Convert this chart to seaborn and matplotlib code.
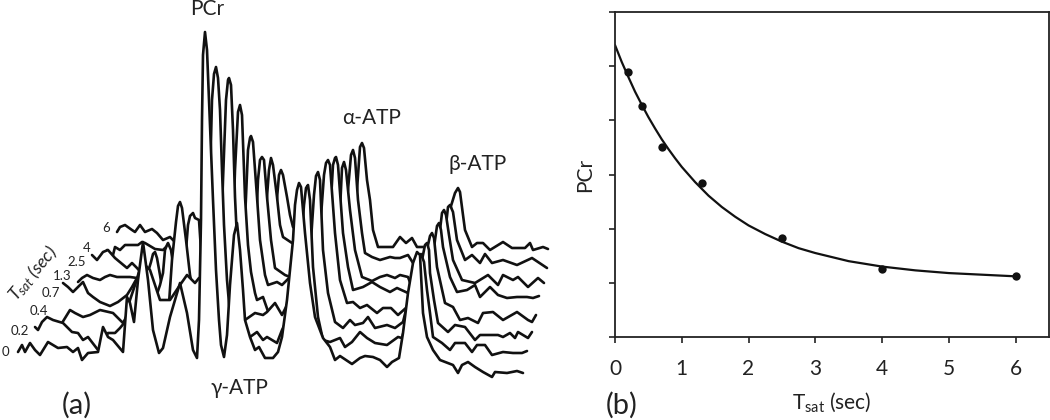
"""31P saturation transfer figure: stacked spectra (a) and PCr decay (b)."""

import matplotlib
matplotlib.use("Agg")
import matplotlib.pyplot as plt
import numpy as np
import seaborn as sns

# (a) stacked spectra: (position, height), front to back
TRACE_0 = [(18,352),(22,345),(25,352),(30,343),(35,350),(40,355),(48,342),(58,348),(67,347),(73,352),(78,348),(82,360),(88,353),(98,352),(103,327),(108,337),(113,340),(123,352),(127,297),(130,303),(134,322),(138,280),(143,242),(148,280),(153,330),(159,353),(163,348),(170,317),(180,283),(187,313),(193,350),(197,358),(199,320),(201,220),(202,120),(203,55),(205,32),(207,50),(209,100),(211,150),(213,200),(216,270),(219,320),(221,345),(224,357),(227,335),(230,285),(234,235),(237,223),(240,250),(243,290),(245,320),(250,337),(255,350),(259,347),(265,358),(273,358),(278,352),(282,337),(287,300),(293,240),(295,205),(297,190),(299,183),(301,187),(303,210),(305,233),(310,283),(315,317),(323,338),(330,347),(335,360),(340,356),(352,364),(360,358),(365,356),(373,357),(380,360),(387,367),(392,362),(399,358),(403,333),(408,293),(413,263),(417,252),(420,255),(423,313),(427,337),(433,350),(440,360),(453,365),(458,373),(462,365),(468,362),(475,367),(483,372),(492,377),(495,372),(507,373),(517,371),(523,373)]
TRACE_1 = [(35,327),(38,330),(42,322),(47,317),(53,320),(63,323),(72,332),(78,333),(83,340),(88,337),(98,350),(104,340),(108,333),(115,333),(120,328),(125,322),(130,300),(135,285),(142,262),(150,270),(160,300),(170,300),(180,285),(187,275),(195,283),(199,278),(203,280),(207,300),(210,180),(212,100),(214,74),(216,67),(218,78),(220,110),(222,170),(224,225),(227,280),(229,303),(232,335),(238,350),(245,345),(250,337),(257,332),(263,340),(267,337),(277,343),(282,330),(287,320),(292,290),(297,290),(301,245),(304,205),(306,188),(308,185),(310,200),(313,267),(318,317),(323,340),(330,342),(335,340),(340,338),(345,347),(352,342),(360,332),(367,338),(375,343),(387,345),(398,337),(402,338),(408,315),(413,285),(417,265),(421,254),(424,262),(427,290),(430,313),(433,337),(442,343),(450,350),(455,343),(465,343),(472,352),(477,345),(485,345),(492,355),(503,352),(513,353),(522,353),(527,351)]
TRACE_2 = [(62,323),(70,310),(75,313),(83,317),(90,315),(100,310),(113,313),(118,318),(123,323),(130,310),(140,270),(150,280),(160,320),(168,318),(172,260),(176,222),(178,206),(180,202),(182,208),(186,240),(190,275),(195,300),(198,307),(205,320),(215,320),(220,280),(223,180),(226,100),(228,80),(229,78),(231,85),(233,130),(235,197),(238,260),(242,300),(245,320),(255,313),(263,315),(267,312),(275,303),(282,315),(287,305),(293,290),(300,300),(306,300),(311,240),(314,195),(316,176),(318,172),(320,180),(323,250),(328,293),(335,322),(343,328),(350,320),(355,325),(363,323),(368,317),(375,328),(387,325),(395,328),(403,322),(406,310),(411,300),(417,280),(422,260),(425,245),(427,243),(429,250),(430,273),(434,300),(438,323),(448,332),(455,325),(465,327),(475,340),(480,335),(498,335),(503,337),(510,333),(515,338),(518,332),(528,338),(532,332)]
TRACE_3 = [(63,283),(68,287),(73,292),(78,287),(83,282),(88,293),(93,297),(100,302),(110,306),(118,302),(127,295),(132,287),(137,278),(145,290),(155,310),(170,310),(183,295),(186,250),(188,225),(190,216),(193,213),(195,218),(199,220),(201,250),(203,285),(210,310),(225,310),(232,260),(235,170),(238,112),(240,105),(242,115),(245,197),(248,245),(251,272),(255,293),(257,300),(263,297),(270,317),(273,330),(278,323),(283,320),(288,305),(292,280),(305,290),(315,280),(320,230),(324,175),(326,163),(328,160),(330,165),(335,233),(340,280),(347,303),(353,302),(360,308),(367,305),(377,313),(383,308),(391,308),(398,315),(407,307),(409,293),(417,290),(424,280),(428,245),(430,236),(432,233),(434,238),(437,267),(445,303),(453,307),(460,320),(468,318),(478,323),(483,313),(493,312),(503,320),(517,312),(528,320),(532,322),(536,315)]
TRACE_4 = [(78,282),(82,278),(87,275),(93,278),(100,280),(105,277),(110,275),(117,277),(130,277),(137,278),(145,290),(155,300),(160,285),(163,273),(165,250),(167,245),(168,243),(171,250),(174,270),(178,283),(190,300),(210,305),(240,300),(245,220),(248,150),(250,138),(251,136),(253,142),(257,197),(260,240),(265,275),(268,285),(277,282),(282,285),(290,277),(305,280),(325,270),(331,200),(333,165),(335,158),(336,157),(338,165),(343,233),(348,267),(353,290),(363,287),(372,282),(380,287),(390,292),(397,288),(408,293),(418,285),(430,280),(435,240),(437,226),(439,223),(441,230),(443,247),(450,277),(457,292),(467,290),(475,285),(480,297),(490,287),(498,295),(507,298),(517,297),(527,297),(533,298),(539,296)]
TRACE_5 = [(92,255),(97,260),(103,252),(108,250),(115,258),(127,268),(132,263),(137,268),(143,275),(148,272),(151,262),(153,254),(155,252),(157,258),(160,275),(165,307),(172,320),(200,310),(250,310),(255,250),(258,180),(260,160),(262,157),(264,160),(267,197),(271,240),(275,268),(285,275),(290,277),(325,280),(338,280),(340,210),(342,168),(344,162),(346,170),(350,210),(355,250),(362,277),(372,281),(380,277),(387,275),(395,278),(400,275),(408,277),(411,285),(425,290),(436,285),(440,230),(442,213),(444,210),(446,215),(449,235),(453,260),(462,280),(475,283),(488,275),(498,285),(503,275),(513,280),(518,277),(528,287),(538,278),(544,283)]
TRACE_6 = [(107,250),(108,252),(113,255),(115,247),(120,250),(125,245),(138,245),(142,242),(145,243),(155,249),(163,250),(168,245),(172,258),(180,270),(260,300),(266,210),(269,170),(271,158),(273,165),(277,197),(280,225),(283,237),(292,243),(340,240),(348,190),(351,155),(353,150),(355,158),(358,200),(362,233),(365,253),(372,257),(380,260),(390,257),(395,258),(400,258),(408,255),(413,263),(420,265),(440,270),(446,225),(448,207),(450,205),(453,212),(457,240),(465,260),(472,255),(480,263),(485,254),(492,263),(503,260),(517,265),(532,258),(547,268)]
TRACE_7 = [(117,232),(120,227),(125,225),(132,230),(135,232),(140,225),(145,232),(152,229),(157,233),(163,240),(170,237),(175,242),(200,280),(270,290),(276,210),(279,175),(281,170),(283,175),(287,197),(290,215),(293,227),(310,240),(350,240),(357,190),(360,147),(362,143),(364,148),(367,180),(370,200),(373,230),(378,247),(387,247),(393,247),(400,237),(406,243),(412,238),(417,247),(425,247),(440,250),(448,250),(451,206),(455,193),(458,188),(460,192),(463,215),(465,230),(472,247),(477,243),(483,243),(490,250),(503,242),(512,248),(525,248),(530,243),(533,250),(543,247),(548,249)]
TRACES = [TRACE_0, TRACE_1, TRACE_2, TRACE_3, TRACE_4, TRACE_5, TRACE_6, TRACE_7]

TSAT_LABELS = ["0", "0.2", "0.4", "0.7", "1.3", "2.5", "4", "6"]
TSAT_LABEL_X = [5, 20, 39, 51, 62, 77, 87, 106]
TSAT_LABEL_Y = [352, 331, 311, 293, 276, 262, 248, 228]

# (b) PCr vs saturation time
TSAT = [0.2, 0.4, 0.7, 1.3, 2.5, 4, 6]
PCR = [4.90, 4.27, 3.50, 2.85, 1.82, 1.26, 1.12]
FIT_X = [0, 0.1, 0.2, 0.3, 0.4, 0.5, 0.6, 0.7, 0.8, 0.9, 1.0, 1.2, 1.4, 1.6, 1.8, 2.0, 2.25, 2.5, 2.75, 3, 3.5, 4, 4.5, 5, 5.5, 6]
FIT_Y = [5.39, 5.08, 4.80, 4.53, 4.29, 4.06, 3.85, 3.65, 3.47, 3.30, 3.14, 2.86, 2.61, 2.40, 2.22, 2.06, 1.90, 1.76, 1.64, 1.55, 1.40, 1.30, 1.23, 1.18, 1.15, 1.12]

BLACK = "#111111"

sns.set_style("ticks")
plt.rcParams["font.family"] = ["Lato", "Liberation Serif"]
plt.rcParams["mathtext.fontset"] = "custom"
plt.rcParams["mathtext.rm"] = "Lato"
plt.rcParams["mathtext.it"] = "Lato:italic"
plt.rcParams["text.color"] = "#222222"

fig = plt.figure(figsize=(10.5, 4.2), dpi=100)

# (a) hidden-line stack: back trace first, each one masks what lies under it
ax = fig.add_axes([0, 0, 570 / 1050, 1])
ax.set_xlim(0, 570)
ax.set_ylim(420, 0)
ax.axis("off")
for i, trace in reversed(list(enumerate(TRACES))):
    xs, ys = np.array(trace).T
    z = 10 + 2 * (len(TRACES) - i)
    ax.fill_between(xs, ys, 400, color="white", lw=0, zorder=z)
    sns.lineplot(x=xs, y=ys, sort=False, estimator=None, color=BLACK, lw=1.9,
                 ax=ax, zorder=z + 1, solid_joinstyle="round")

for lab, lx, ly in zip(TSAT_LABELS, TSAT_LABEL_X, TSAT_LABEL_Y):
    ax.text(lx, ly, lab, fontsize=9.5, ha="center", va="center", zorder=40)
ax.text(33, 274, r"$\mathit{T}_{\mathit{sat}}$ (sec)", style="italic", fontsize=13,
        rotation=50, ha="center", va="center", zorder=40)
ax.text(207, 9, "PCr", fontsize=15, ha="center", va="center", zorder=40)
ax.text(372, 118, "\u03b1-ATP", fontsize=15, ha="center", va="center", zorder=40)
ax.text(478, 164, "\u03b2-ATP", fontsize=15, ha="center", va="center", zorder=40)
ax.text(239, 388, "\u03b3-ATP", fontsize=15, ha="center", va="center", zorder=40)
ax.text(77, 405, "(a)", fontsize=21, ha="center", va="center", zorder=40)

# (b)
bx = fig.add_axes([615 / 1050, 1 - 337 / 420, (1049 - 615) / 1050, (337 - 12) / 420])
sns.lineplot(x=FIT_X, y=FIT_Y, sort=False, estimator=None, color=BLACK, lw=1.6, ax=bx)
sns.scatterplot(x=TSAT, y=PCR, color=BLACK, s=36, linewidth=0, ax=bx, zorder=5, clip_on=False)
bx.set_xlim(0, 6.5)
bx.set_ylim(0, 6)
bx.set_xticks(range(7))
bx.set_yticks(range(7))
bx.set_yticklabels([])
bx.tick_params(axis="both", length=4, width=1.2, color="#222222", labelsize=15, labelcolor="#222222")
bx.tick_params(axis="x", pad=12)
for s in bx.spines.values():
    s.set_linewidth(1.3)
    s.set_color("#222222")
bx.set_xlabel("")
bx.set_ylabel("")
fig.text(832 / 1050, 1 - 402 / 420, r"T$_{\mathrm{sat}}$ (sec)", fontsize=15, ha="center", va="center")
fig.text(585 / 1050, 1 - 175 / 420, "PCr", fontsize=15, rotation=90, ha="center", va="center")
fig.text(622 / 1050, 1 - 405 / 420, "(b)", fontsize=21, ha="center", va="center")

fig.savefig("out.png", dpi=100)
